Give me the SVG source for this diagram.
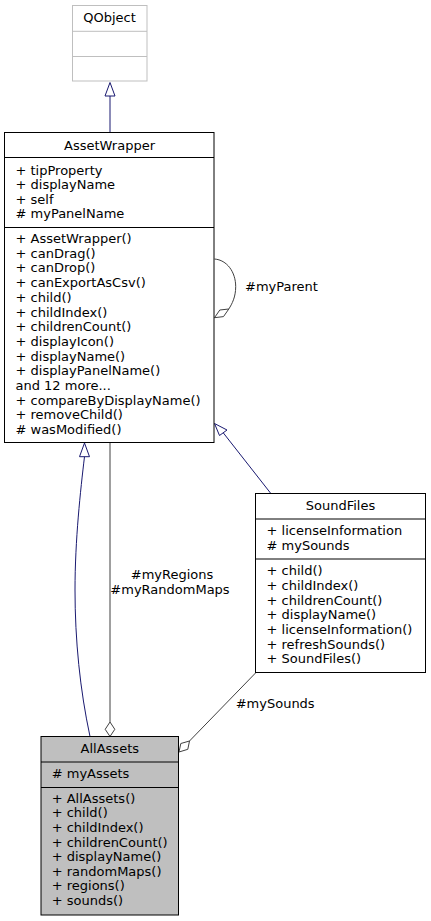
<svg xmlns="http://www.w3.org/2000/svg" width="431" height="921" viewBox="0 0 431 921">
<style>
text{font-family:"DejaVu Sans",sans-serif;font-size:13px;fill:#000}
.c{text-anchor:middle}
.box{fill:#fff;stroke:#000;stroke-width:1}
.gbox{fill:#fff;stroke:#bfbfbf;stroke-width:1}
.sel{fill:#bfbfbf;stroke:#000;stroke-width:1}
.inh{fill:none;stroke:#191970;stroke-width:1}
.inhh{fill:#fff;stroke:#191970;stroke-width:1}
.agg{fill:none;stroke:#404040;stroke-width:1}
.aggh{fill:#fff;stroke:#404040;stroke-width:1}
</style>
<rect width="431" height="921" fill="#fff"/>
<g id="connectors">
<path class="inh" d="M110,132 L110,96"/>
<polygon class="inhh" points="110,82.5 115,96 105,96"/>
<path class="inh" d="M270.7,493.3 L223,432.5"/>
<polygon class="inhh" points="214.5,423.5 227,430 219.5,435.5"/>
<path class="inh" d="M90,736.5 C80,690 75,640 75,590 C75,540 80.5,490 84.5,456.7"/>
<polygon class="inhh" points="84.5,443 89.5,456.7 79.5,456.7"/>
<path class="agg" d="M110,443 L110,722"/>
<polygon class="aggh" points="110,722 114.8,729.3 110,736.5 105.2,729.3"/>
<path class="agg" d="M256,672.5 L189.5,741"/>
<polygon class="aggh" points="189.5,741 187.8,749.3 179,752 180.8,743.5"/>
<path class="agg" d="M214.5,259 C227,260 235.7,272 235.7,286.7 C235.7,297 232,304 228.8,309"/>
<polygon class="aggh" points="228.8,309 223.5,316.6 214.5,317.7 219.8,310"/>
<text x="245" y="291">#myParent</text>
<text class="c" x="172" y="578.8">#myRegions</text>
<text class="c" x="170" y="593.8">#myRandomMaps</text>
<text x="235.7" y="707.8">#mySounds</text>
</g>
<g id="QObject">
<rect class="gbox" x="72.5" y="5.5" width="74.5" height="75.5"/>
<line x1="72.5" y1="31.3" x2="147" y2="31.3" stroke="#bfbfbf"/>
<line x1="72.5" y1="56.5" x2="147" y2="56.5" stroke="#bfbfbf"/>
<text class="c" x="109.5" y="21.7">QObject</text>
</g>
<g id="AssetWrapper">
<rect class="box" x="4.5" y="132.5" width="209.5" height="310"/>
<line x1="4.5" y1="157.5" x2="214" y2="157.5" stroke="#000"/>
<line x1="4.5" y1="227.5" x2="214" y2="227.5" stroke="#000"/>
<text class="c" x="109.5" y="150">AssetWrapper</text>
<text x="15.5" y="174.5">+ tipProperty</text>
<text x="15.5" y="189">+ displayName</text>
<text x="15.5" y="203.5">+ self</text>
<text x="15.5" y="218"># myPanelName</text>
<text x="15.5" y="243">+ AssetWrapper()</text>
<text x="15.5" y="257.7">+ canDrag()</text>
<text x="15.5" y="272.4">+ canDrop()</text>
<text x="15.5" y="287.1">+ canExportAsCsv()</text>
<text x="15.5" y="301.8">+ child()</text>
<text x="15.5" y="316.5">+ childIndex()</text>
<text x="15.5" y="331.2">+ childrenCount()</text>
<text x="15.5" y="345.9">+ displayIcon()</text>
<text x="15.5" y="360.6">+ displayName()</text>
<text x="15.5" y="375.3">+ displayPanelName()</text>
<text x="15.5" y="390">and 12 more...</text>
<text x="15.5" y="404.7">+ compareByDisplayName()</text>
<text x="15.5" y="419.4">+ removeChild()</text>
<text x="15.5" y="434.1"># wasModified()</text>
</g>
<g id="SoundFiles">
<rect class="box" x="255.5" y="493.5" width="170" height="179"/>
<line x1="255.5" y1="519" x2="425.5" y2="519" stroke="#000"/>
<line x1="255.5" y1="559" x2="425.5" y2="559" stroke="#000"/>
<text class="c" x="340.5" y="510">SoundFiles</text>
<text x="266.5" y="534.5">+ licenseInformation</text>
<text x="266.5" y="549.5"># mySounds</text>
<text x="266.5" y="575.2">+ child()</text>
<text x="266.5" y="589.8">+ childIndex()</text>
<text x="266.5" y="604.5">+ childrenCount()</text>
<text x="266.5" y="619.2">+ displayName()</text>
<text x="266.5" y="633.9">+ licenseInformation()</text>
<text x="266.5" y="648.5">+ refreshSounds()</text>
<text x="266.5" y="663.2">+ SoundFiles()</text>
</g>
<g id="AllAssets">
<rect class="sel" x="41" y="736.5" width="137.5" height="178.5"/>
<line x1="41" y1="762" x2="178.5" y2="762" stroke="#000"/>
<line x1="41" y1="787.5" x2="178.5" y2="787.5" stroke="#000"/>
<text class="c" x="109.8" y="752.8">AllAssets</text>
<text x="51.7" y="777.8"># myAssets</text>
<text x="51.7" y="802.8">+ AllAssets()</text>
<text x="51.7" y="817.4">+ child()</text>
<text x="51.7" y="832">+ childIndex()</text>
<text x="51.7" y="846.6">+ childrenCount()</text>
<text x="51.7" y="861.2">+ displayName()</text>
<text x="51.7" y="875.8">+ randomMaps()</text>
<text x="51.7" y="890.4">+ regions()</text>
<text x="51.7" y="905">+ sounds()</text>
</g>
</svg>
